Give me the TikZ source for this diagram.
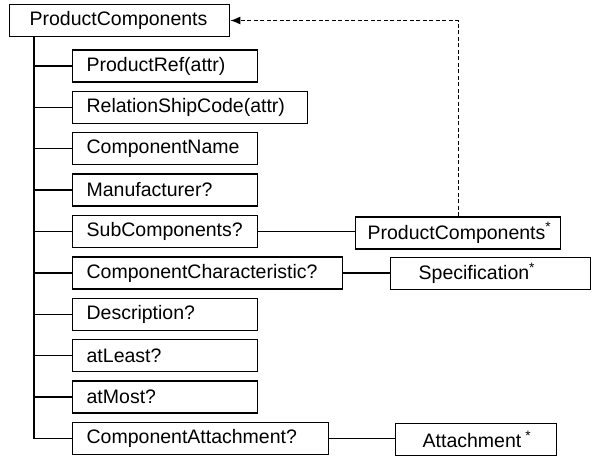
\documentclass[tikz,border=0pt]{standalone}
\usepackage{fontspec}
\setmainfont{Liberation Sans}
\usetikzlibrary{arrows.meta}

\begin{document}
\begin{tikzpicture}[x=1pt,y=-1pt,
    every node/.style={font=\fontsize{19.5}{22}\selectfont},
    box/.style={draw, line width=1.3pt, rectangle, anchor=west, align=left,
      minimum height=32pt, inner ysep=0pt},
    child/.style={box, inner xsep=14pt, text width=#1},
    link/.style={line width=1.3pt},
    ref/.style={line width=1.3pt, dash pattern=on 4pt off 2.5pt,
      -{Latex[length=10pt,width=8pt]}}]
  % canvas
  \useasboundingbox (0,0) rectangle (593,459);

  % root element
  \node[box, inner xsep=20pt, text width=180pt] (root) at (9,20.5) {ProductComponents};

  % child elements
  \node[child=157pt] (c1)  at (72,66.0)  {ProductRef(attr)};
  \node[child=207pt] (c2)  at (72,107.3) {RelationShipCode(attr)};
  \node[child=157pt] (c3)  at (72,148.6) {ComponentName};
  \node[child=157pt] (c4)  at (72,189.9) {Manufacturer?};
  \node[child=157pt] (c5)  at (72,231.6) {SubComponents?};
  \node[child=242pt] (c6)  at (72,273.0) {ComponentCharacteristic?};
  \node[child=157pt] (c7)  at (72,314.5) {Description?};
  \node[child=157pt] (c8)  at (72,355.8) {atLeast?};
  \node[child=157pt] (c9)  at (72,397.0) {atMost?};
  \node[child=228pt] (c10) at (72,438.5) {ComponentAttachment?};

  % referenced types
  \node[box, inner xsep=12pt, text width=181pt] (pc)   at (355,233.0) {ProductComponents\textsuperscript{*}};
  \node[box, inner xsep=28pt, text width=144pt] (spec) at (390,273.5) {Specification\textsuperscript{*}};
  \node[box, inner xsep=27pt, text width=107pt] (att)  at (395,439.5) {Attachment\kern4pt\textsuperscript{*}};

  % tree trunk and branches
  \coordinate (trunk) at (34,0);
  \draw[link] (root.south -| trunk) |- (c10.west);
  \foreach \c in {c1,c2,c3,c4,c5,c6,c7,c8,c9}
    \draw[link] (\c.west -| trunk) -- (\c.west);

  % links to referenced types
  \draw[link] (c5.east) -- (c5.east -| pc.west);
  \draw[link] (c6.east) -- (c6.east -| spec.west);
  \draw[link] (c10.east) -- (c10.east -| att.west);

  % recursive reference back to the root
  \draw[ref] (pc.north) |- (root.east);
\end{tikzpicture}
\end{document}
